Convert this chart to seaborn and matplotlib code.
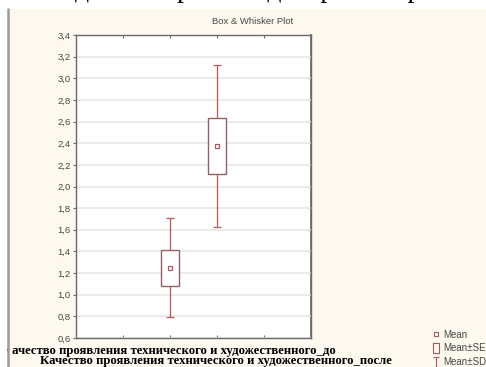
import numpy as np
import pandas as pd
import matplotlib
matplotlib.use('Agg')
import matplotlib.pyplot as plt
import seaborn as sns
from matplotlib.lines import Line2D
from matplotlib.patches import Rectangle
from matplotlib.path import Path

# data
variables = ['Качество проявления технического и художественного_до',
             'Качество проявления технического и художественного_после']
positions = [0, 1]
means = [1.25, 2.375]
se = [0.165, 0.26]
sd = [0.46, 0.745]
yticks = [0.6, 0.8, 1.0, 1.2, 1.4, 1.6, 1.8, 2.0, 2.2, 2.4, 2.6, 2.8, 3.0, 3.2, 3.4]
ytick_labels = ['0,6', '0,8', '1,0', '1,2', '1,4', '1,6', '1,8', '2,0',
                '2,2', '2,4', '2,6', '2,8', '3,0', '3,2', '3,4']
xticks = [-1, 0, 1, 2]
legend_labels = ['Mean', 'Mean±SE', 'Mean±SD']
top_text = 'для построения диаграммы размаха по рисунку'

sns.set_theme(style='white')
plt.rcParams['font.family'] = ['Liberation Sans', 'DejaVu Sans']

W, H = 486, 367
red = '#b5585a'
box_col = '#946062'
txt_col = '#474747'
cream = '#fef9ee'

fig = plt.figure(figsize=(W / 100, H / 100), dpi=100, facecolor='white')

# cream panel
panel = Rectangle((8 / W, 0), 1 - 8 / W, 1 - 9 / H, transform=fig.transFigure,
                  facecolor=cream, edgecolor='none', zorder=-10)
fig.patches.append(panel)

# document text cut off at the very top
fig.text(75 / W, 1 + 3 / H, top_text, fontsize=20, family='Liberation Serif',
         color='black', va='baseline', ha='left')

ax = fig.add_axes([76 / W, 1 - 338 / H, 235 / W, 303 / H])
ax.set_facecolor('white')

df = pd.DataFrame({'pos': positions, 'mean': means, 'se': se, 'sd': sd})

# Mean +- SD whiskers
ax.errorbar(df['pos'], df['mean'], yerr=df['sd'], fmt='none', ecolor=red,
            elinewidth=0.9, capsize=3.2, capthick=0.9, zorder=2)
# Mean +- SE boxes
ax.bar(df['pos'], 2 * df['se'], bottom=df['mean'] - df['se'], width=0.4,
       facecolor='white', edgecolor=box_col, linewidth=1.0, zorder=3)
# Mean markers
sns.scatterplot(data=df, x='pos', y='mean', marker='s', s=12, color='white',
                edgecolor=red, linewidth=0.9, zorder=4, ax=ax, legend=False)

ax.set_xlim(-2, 3)
ax.set_ylim(0.6, 3.4)
ax.set_xlabel('')
ax.set_ylabel('')
ax.set_xticks(xticks)
ax.set_xticklabels([])
ax.set_yticks(yticks)
ax.set_yticklabels(ytick_labels)
ax.yaxis.grid(True, color='#e8e8e8', lw=1.2)
ax.xaxis.grid(False)
ax.set_axisbelow(True)
for s in ax.spines.values():
    s.set_color('#6a6a6a')
    s.set_linewidth(1.0)
ax.tick_params(axis='x', direction='in', top=True, bottom=True, length=2,
               width=0.8, color='#6a6a6a')
ax.tick_params(axis='y', direction='out', left=True, right=False, length=2.5,
               width=0.8, color='#6a6a6a', labelsize=6.8, labelcolor=txt_col, pad=1.5)
axr = ax.secondary_yaxis('right')
axr.set_yticks(yticks)
axr.tick_params(direction='in', length=2, width=0.8, color='#6a6a6a', labelright=False)
axr.spines['right'].set_color('#6a6a6a')

fig.text(253 / W, 1 - 22 / H, 'Box & Whisker Plot', ha='center', va='center',
         fontsize=6.8, color=txt_col)

# variable names under the plot
fig.text(3 / W, 1 - 354 / H, variables[0], fontsize=9.2, family='Liberation Serif',
         weight='bold', color='black', va='baseline')
fig.text(40 / W, 1 - 364 / H, variables[1], fontsize=9.2, family='Liberation Serif',
         weight='bold', color='black', va='baseline')

# white margin, grey border and panel edge hide what runs past the left side
fig.add_artist(Rectangle((0, 0), 7 / W, 1, transform=fig.transFigure,
                         facecolor='white', edgecolor='none', zorder=20))
fig.add_artist(Rectangle((9 / W, 1 - 359 / H), 2.5 / W, 15 / H, transform=fig.transFigure,
                         facecolor=cream, edgecolor='none', zorder=20))
fig.add_artist(Line2D([8 / W, 8 / W], [0, 1 - 9 / H], color='#9a9a9a', lw=1.8,
                      transform=fig.transFigure, zorder=21))

# legend
rect_path = Path([(-0.65, -1), (0.65, -1), (0.65, 1), (-0.65, 1), (-0.65, -1)])
i_path = Path([(-0.65, 1), (0.65, 1), (0, 1), (0, -1), (-0.65, -1), (0.65, -1)],
              [Path.MOVETO, Path.LINETO, Path.MOVETO, Path.LINETO, Path.MOVETO, Path.LINETO])
handles = [
    Line2D([], [], ls='none', marker='s', ms=3.3, mfc='white', mec=red, mew=0.8),
    Line2D([], [], ls='none', marker=rect_path, ms=7.5, mfc='none', mec=box_col, mew=0.8),
    Line2D([], [], ls='none', marker=i_path, ms=7.5, mfc='none', mec=red, mew=0.8),
]
leg = fig.legend(handles, legend_labels, loc='lower right', bbox_to_anchor=(1.0, 0.0),
                 frameon=False, fontsize=7, handlelength=0.8, handletextpad=0.3,
                 labelspacing=0.38, borderaxespad=0.0, borderpad=0.0)
for t in leg.get_texts():
    t.set_color(txt_col)

fig.savefig('out.png', dpi=100, facecolor='white')
